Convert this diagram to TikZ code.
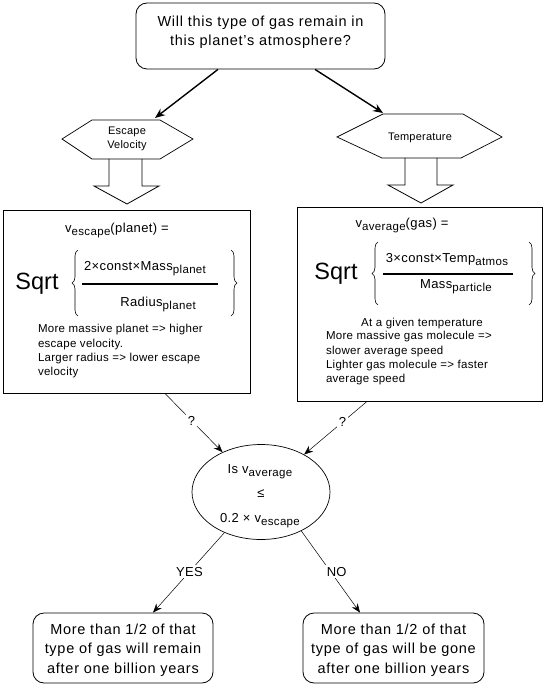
\documentclass[tikz,border=0pt]{standalone}
\usepackage{fontspec}
\setmainfont{Liberation Sans}
\usetikzlibrary{arrows.meta,shapes.geometric,decorations.pathreplacing}
\newcommand\fsz[3]{\fontsize{#1}{#2}\selectfont\addfontfeature{LetterSpace=#3}}
\newcommand\lsub[2]{\raisebox{-#1}{\fontsize{11.5}{12}\selectfont #2}}
\newcommand\fTop{\fsz{14.5}{18.5}{5}}
\newcommand\fHex{\fsz{11}{14}{2}}
\newcommand\fForm{\fsz{13}{15}{3}}
\newcommand\fTxt{\fsz{11.5}{14.3}{2.5}}
\newcommand\fEll{\fsz{13}{15}{3}}
\newcommand\fBot{\fsz{14.5}{19.7}{5}}
\newcommand\fLbl{\fsz{13}{14}{2}}
\newcommand\fSq{\fsz{23.5}{24}{0}}
\begin{document}
\begin{tikzpicture}[x=1pt,y=-1pt,
  lbl/.style={inner sep=0pt, outer sep=0pt},
  roundbox/.style={draw, rounded corners=11pt, line width=0.8pt, inner sep=0pt},
  framebox/.style={draw, line width=0.9pt, inner sep=0pt},
  hexa/.style={draw, line width=0.7pt},
  blockarrow/.style={draw, line width=0.8pt},
  bigarr/.style={-{Stealth[length=10pt,width=8pt]}, line width=1.4pt},
  thinarr/.style={-{Stealth[length=9pt,width=7pt]}, line width=0.5pt},
  brc/.style={decorate, decoration={brace, amplitude=6pt}, line width=0.6pt},
  gaplabel/.style={fill=white, inner sep=2pt, font=\fLbl},
]
\useasboundingbox (0,0) rectangle (547,687);

% top question
\node[roundbox, minimum width=249pt, minimum height=66pt] (top) at (260.5,36) {};
\node[lbl, align=center, font={\fTop}] (toptext) at (260.5,32.5)
  {Will this type of gas remain in\\this planet's atmosphere?};

% hexagons
\draw[hexa] (62,139) -- (92,120) -- (160,120) -- (193,139) -- (160,159) -- (92,159) -- cycle;
\node[lbl, align=center, font={\fHex}] (hexL) at (127,139) {Escape\\Velocity};
\draw[hexa] (337,137) -- (383,114) -- (463,114) -- (502,137) -- (461,158) -- (382,158) -- cycle;
\node[lbl, font={\fHex}] (hexR) at (420,138) {Temperature};
\coordinate (hexLtop) at (155,118);
\coordinate (hexRtop) at (383,113);
\draw[bigarr] ([xshift=-42.5pt]top.south) -- (hexLtop);
\draw[bigarr] ([xshift=54.5pt]top.south) -- (hexRtop);

% block arrows
\draw[blockarrow] (109,159) -- (109,186) -- (94,186) -- (127,204) -- (159,186) -- (142,186) -- (142,159);
\draw[blockarrow] (405,158) -- (405,185) -- (388,185) -- (421,203) -- (453,185) -- (437,185) -- (437,158);

% boxes
\node[framebox, minimum width=247pt, minimum height=183pt] (boxL) at (126.5,301.5) {};
\node[framebox, minimum width=245pt, minimum height=194pt] (boxR) at (419.5,304) {};

% left box contents
\node[lbl, anchor=base, font={\fForm}] (lvesc) at (117,232) {v\lsub{3.5pt}{escape}(planet) =};
\node[lbl, anchor=base, font={\fSq}] (lsqrt) at (37,289) {Sqrt};
\draw[brc] (78,316) -- (78,250);
\draw[brc] (231,250) -- (231,316);
\node[lbl, anchor=base, font={\fForm}] (lnum) at (145,270) {2×const×Mass\lsub{3pt}{planet}};
\draw[line width=2pt] (82,284) -- (218,284);
\node[lbl, anchor=base, font={\fForm}] (lden) at (158,306) {Radius\lsub{3pt}{planet}};
\node[lbl, anchor=north west, align=left, font={\fTxt}] (ltxt) at (38,324.5)
  {More massive planet => higher\\escape velocity.\\Larger radius => lower escape\\velocity};

% right box contents
\node[lbl, anchor=base, font={\fForm}] (rvavg) at (402,227) {v\lsub{3.5pt}{average}(gas) =};
\node[lbl, anchor=base, font={\fSq}] (rsqrt) at (336,279) {Sqrt};
\draw[brc] (378,305) -- (378,242);
\draw[brc] (529,242) -- (529,305);
\node[lbl, anchor=base, font={\fForm}] (rnum) at (447,262) {3×const×Temp\lsub{3pt}{atmos}};
\draw[line width=2pt] (383,274) -- (513,274);
\node[lbl, anchor=base, font={\fForm}] (rden) at (456,288) {Mass\lsub{3pt}{particle}};
\node[lbl, anchor=base, font={\fTxt}] (rgiven) at (422,326) {At a given temperature};
\node[lbl, anchor=north west, align=left, font={\fTxt}] (rtxt) at (326,331.5)
  {More massive gas molecule =>\\slower average speed\\Lighter gas molecule => faster\\average speed};

% ellipse
\node[draw, ellipse, minimum width=138pt, minimum height=95pt, inner sep=0pt, line width=0.7pt] (ell) at (261,492) {};
\node[lbl, anchor=base, font={\fEll}] (e1) at (260,473) {Is v\lsub{3.5pt}{average}};
\node[lbl, anchor=base, font={\fEll}] (e2) at (261,497) {≤};
\node[lbl, anchor=base, font={\fEll}] (e3) at (260,522) {0.2 × v\lsub{3.5pt}{escape}};

\draw[thinarr] ([xshift=38.5pt]boxL.south) -- node[gaplabel, pos=0.46] {?} (ell.134);
\draw[thinarr] ([xshift=-52.5pt]boxR.south) -- node[gaplabel, pos=0.39] {?} (ell.41);

% outcome boxes
\node[roundbox, minimum width=180pt, minimum height=70pt] (bL) at (123,648) {};
\node[lbl, align=center, font={\fBot}] (bLtext) at (123,650)
  {More than 1/2 of that\\type of gas will remain\\after one billion years};
\node[roundbox, minimum width=181pt, minimum height=70pt] (bR) at (393.5,648) {};
\node[lbl, align=center, font={\fBot}] (bRtext) at (393.5,650)
  {More than 1/2 of that\\type of gas will be gone\\after one billion years};

\draw[thinarr] (ell.228) -- node[gaplabel, pos=0.49] {YES} ([xshift=30pt]bL.north);
\draw[thinarr] (ell.316) -- node[gaplabel, pos=0.5, xshift=6pt] {NO} ([xshift=-33.5pt]bR.north);
\end{tikzpicture}
\end{document}
